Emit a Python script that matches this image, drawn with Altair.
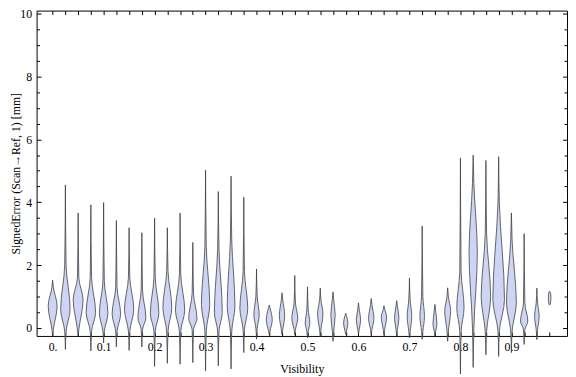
import altair as alt
import pandas as pd

# Visibility bin centres
visibility = [0.0, 0.025, 0.05, 0.075, 0.1, 0.125, 0.15, 0.175, 0.2, 0.225,
              0.25, 0.275, 0.3, 0.325, 0.35, 0.375, 0.4, 0.425, 0.45, 0.475,
              0.5, 0.525, 0.55, 0.575, 0.6, 0.625, 0.65, 0.675, 0.7, 0.725,
              0.75, 0.775, 0.8, 0.825, 0.85, 0.875, 0.9, 0.925, 0.95, 0.975]
# lower tail tip, bottom of body, mode, top of body, upper tail tip (mm)
tail_lo = [-0.26, -0.68, -0.26, -0.73, -0.47, -0.60, -0.71, -0.60, -1.22, -1.12,
           -1.15, -1.10, -1.36, -1.20, -1.30, -0.78, -0.35, -0.21, -0.21, -0.21,
           -0.31, -0.28, -0.42, -0.20, -0.20, -0.20, -0.20, -0.25, -0.31, -0.36,
           -0.25, -0.42, -1.46, -1.25, -0.85, -0.90, -0.78, -0.52, -0.37, 0.73]
body_lo = [-0.05, -0.10, -0.05, -0.10, -0.10, -0.10, -0.10, -0.05, -0.10, -0.10,
           -0.10, -0.05, -0.10, -0.10, -0.10, -0.05, 0.00, -0.10, -0.05, -0.05,
           -0.10, -0.05, -0.10, -0.10, -0.05, -0.05, -0.05, -0.05, -0.10, -0.10,
           -0.10, -0.10, -0.10, 0.00, -0.10, -0.10, -0.10, -0.05, -0.05, 0.76]
mode_y = [0.70, 0.60, 0.90, 0.50, 0.47, 0.45, 0.60, 0.33, 0.47, 0.65,
          0.57, 0.30, 0.75, 0.50, 0.70, 0.63, 0.42, 0.26, 0.40, 0.31,
          0.15, 0.45, 0.42, 0.16, 0.26, 0.30, 0.35, 0.31, 0.37, 0.37,
          0.12, 0.55, 0.65, 2.40, 1.00, 0.90, 0.80, 0.22, 0.37, 0.97]
body_hi = [1.30, 2.00, 1.60, 1.60, 1.50, 1.30, 1.60, 1.20, 1.60, 1.80,
           1.70, 1.10, 2.60, 2.50, 2.80, 1.80, 1.00, 0.65, 0.90, 0.80,
           0.60, 0.90, 0.90, 0.40, 0.60, 0.75, 0.60, 0.70, 0.90, 1.00,
           0.55, 1.00, 1.80, 4.60, 3.00, 4.00, 2.80, 0.80, 0.80, 1.14]
tail_hi = [1.52, 4.55, 3.66, 3.92, 3.99, 3.42, 3.19, 3.03, 3.50, 3.19,
           3.66, 2.72, 5.02, 4.34, 4.83, 4.16, 1.88, 0.73, 1.12, 1.67,
           1.31, 1.27, 1.15, 0.47, 0.80, 0.94, 0.71, 0.87, 1.59, 3.24,
           0.75, 1.28, 5.41, 5.50, 5.33, 5.45, 3.66, 3.00, 1.27, 1.17]
# half width of the density at the mode (relative, px-like units)
mode_w = [4.5, 4.8, 5.0, 4.8, 4.3, 4.3, 4.7, 4.0, 4.3, 4.5,
          4.7, 4.2, 4.2, 4.0, 3.9, 4.0, 2.7, 3.0, 2.7, 3.0,
          2.3, 2.7, 2.2, 2.2, 2.2, 2.7, 2.7, 2.2, 2.3, 2.3,
          2.0, 3.0, 3.7, 4.2, 4.8, 5.9, 5.0, 3.7, 2.3, 1.3]
tail_w = 0.7

x_ticks = visibility
y_major = [0, 2, 4, 6, 8, 10]
y_minor = [0.5, 1, 1.5, 2.5, 3, 3.5, 4.5, 5, 5.5, 6.5, 7, 7.5, 8.5, 9, 9.5]

W, H = 538, 330
XDOM = [-0.0315, 1.0091]
YDOM = [-0.2508, 10.094]
PX = (XDOM[1] - XDOM[0]) / W

rows = []
for i, v in enumerate(visibility):
    ys = [tail_lo[i], body_lo[i], mode_y[i], body_hi[i], tail_hi[i]]
    ws = [0.0, tail_w, mode_w[i], tail_w, 0.0]
    for yy, ww in zip(ys, ws):
        rows.append({"id": i, "y": yy, "xl": v - ww * PX, "xr": v + ww * PX})
df = pd.DataFrame(rows)

FONT = "Liberation Serif"
label_expr = ("abs(datum.value*10 - round(datum.value*10)) < 0.001 ? "
              "(datum.value == 0 ? '0.' : format(datum.value, '.1f')) : ''")

xs = alt.Scale(domain=XDOM, nice=False, zero=False)
ysc = alt.Scale(domain=YDOM, nice=False, zero=False)

base = alt.Chart(df)

violins = base.mark_area(
    orient="horizontal", interpolate="monotone",
    fill="#cdd4f4", stroke="#3a3a3a", strokeWidth=0.9, strokeOpacity=0.85
).encode(
    y=alt.Y("y:Q", scale=ysc, axis=alt.Axis(
        orient="left", values=y_major, tickSize=4.5, offset=-4.5, domain=False,
        tickColor="black", labelColor="black", labelFont=FONT, labelFontSize=12,
        labelPadding=5, grid=False, title="SignedError (Scan\u2192Ref, 1) [mm]",
        titleFont=FONT, titleFontSize=12, titleFontWeight="normal",
        titleColor="black", titlePadding=-3)),
    x=alt.X("xl:Q", scale=xs, axis=alt.Axis(
        orient="bottom", values=x_ticks, tickSize=4, offset=-4, domain=False,
        tickColor="black", labelColor="black", labelFont=FONT, labelFontSize=12,
        labelPadding=6, labelExpr=label_expr, grid=False, title="Visibility",
        titleFont=FONT, titleFontSize=12, titleFontWeight="normal",
        titleColor="black", titlePadding=11, labelOverlap=False)),
    x2="xr:Q",
    detail="id:N",
)

frame_major = base.mark_point(opacity=0).encode(
    y=alt.Y("y:Q", scale=ysc, axis=alt.Axis(
        orient="right", values=y_major, tickSize=4.5, offset=-4.5, domain=False,
        labels=False, tickColor="black", grid=False, title=None)),
    x=alt.X("xl:Q", scale=xs, axis=alt.Axis(
        orient="top", values=x_ticks, tickSize=4, offset=-4, domain=False,
        labels=False, tickColor="black", grid=False, title=None)),
)

minor_left = base.mark_point(opacity=0).encode(
    y=alt.Y("y:Q", scale=ysc, axis=alt.Axis(
        orient="left", values=y_minor, tickSize=3, offset=-3, domain=False,
        labels=False, tickColor="black", grid=False, title=None)),
    x=alt.X("xl:Q", scale=xs, axis=None),
)

minor_right = base.mark_point(opacity=0).encode(
    y=alt.Y("y:Q", scale=ysc, axis=alt.Axis(
        orient="right", values=y_minor, tickSize=3, offset=-3, domain=False,
        labels=False, tickColor="black", grid=False, title=None)),
    x=alt.X("xl:Q", scale=xs, axis=None),
)

chart = alt.layer(violins, frame_major, minor_left, minor_right).resolve_scale(
    x="independent", y="independent"
).resolve_axis(
    x="independent", y="independent"
).properties(
    width=W, height=H,
    autosize=alt.AutoSizeParams(type="none"),
    padding={"left": 29, "top": 0, "right": 1, "bottom": 39},
).configure_view(
    stroke="black", strokeWidth=1
)

chart.save("out.html", embed_options={"renderer": "svg", "actions": False})
